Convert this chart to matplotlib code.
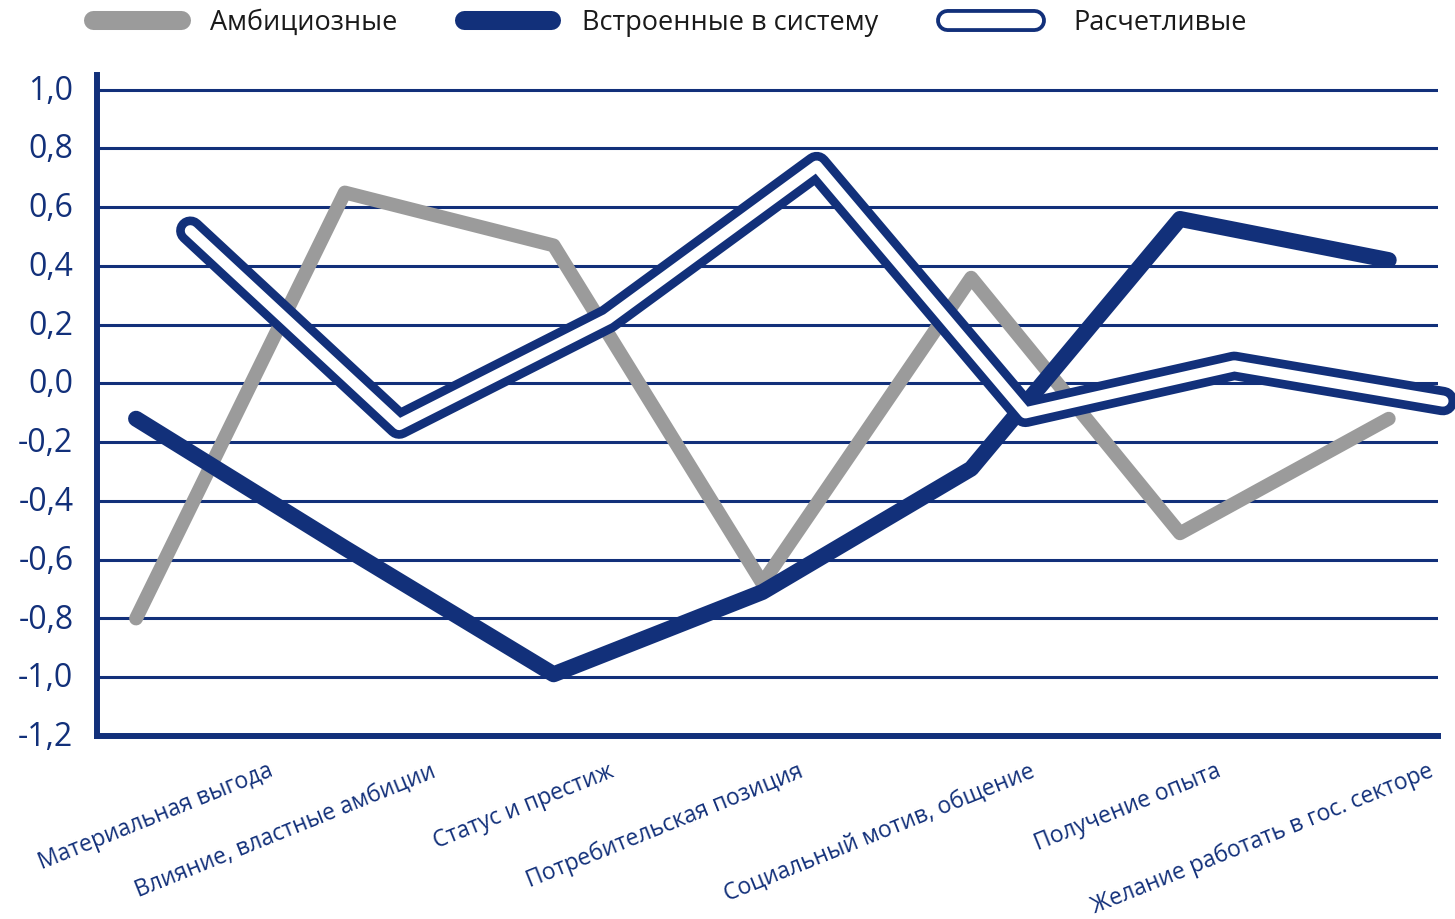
import matplotlib
matplotlib.use("Agg")
import numpy as np
import matplotlib.pyplot as plt
import matplotlib.transforms as mtransforms
from matplotlib.lines import Line2D
from matplotlib.ticker import FuncFormatter

plt.rcParams["font.family"] = ["Open Sans", "DejaVu Sans"]

# данные
categories = ["Материальная выгода", "Влияние, властные амбиции", "Статус и престиж",
              "Потребительская позиция", "Социальный мотив, общение", "Получение опыта",
              "Желание работать в гос. секторе"]
series_names = ["Амбициозные", "Встроенные в систему", "Расчетливые"]
ambitious = [-0.80, 0.65, 0.47, -0.68, 0.36, -0.51, -0.12]
embedded = [-0.12, -0.56, -0.99, -0.71, -0.29, 0.56, 0.42]
calculating = [0.52, -0.14, 0.22, 0.74, -0.10, 0.06, -0.06]
y_ticks = [-1.2, -1.0, -0.8, -0.6, -0.4, -0.2, 0.0, 0.2, 0.4, 0.6, 0.8, 1.0]

# оформление
NAVY = "#12307a"
GRAY = "#9b9b9b"
W, H = 1455, 920
label_pos = [0.63, 1.41, 2.26, 3.17, 4.28, 5.17, 6.19]   # where rotated labels end
hollow_shift = 0.26

fig = plt.figure(figsize=(W / 100, H / 100), dpi=100)
ax = fig.add_axes([97 / W, 1 - 737 / H, (1438 - 97) / W, 661 / H])

x = np.arange(len(categories))
ax.plot(x, ambitious, color=GRAY, lw=10, solid_capstyle="round",
        solid_joinstyle="round", zorder=3)
ax.plot(x, embedded, color=NAVY, lw=11.5, solid_capstyle="round",
        solid_joinstyle="round", zorder=4)
ax.plot(x + hollow_shift, calculating, color=NAVY, lw=20.5, solid_capstyle="round",
        solid_joinstyle="round", zorder=5, clip_on=False)
ax.plot(x + hollow_shift, calculating, color="white", lw=8, solid_capstyle="round",
        solid_joinstyle="round", zorder=6, clip_on=False)

ax.set_xlim(-0.187, 6.236)
ax.set_ylim(-1.2, 1.05)

ax.set_yticks(y_ticks)
ax.yaxis.set_major_formatter(FuncFormatter(lambda v, _: f"{v:.1f}".replace(".", ",")))
ax.tick_params(axis="y", length=0, pad=17, labelsize=23, labelcolor=NAVY)
ax.grid(axis="y", color=NAVY, lw=2.2)
ax.set_axisbelow(True)

offset = mtransforms.ScaledTranslation(0, 2.5 / 72, fig.dpi_scale_trans)
for lab in ax.get_yticklabels():
    lab.set_transform(lab.get_transform() + offset)

ax.set_xticks(label_pos)
ax.set_xticklabels(categories, rotation=22, ha="right", rotation_mode="anchor",
                   fontsize=16.5, color=NAVY)
ax.tick_params(axis="x", length=0, pad=16)

for s in ["top", "right"]:
    ax.spines[s].set_visible(False)
for s in ["left", "bottom"]:
    ax.spines[s].set_color(NAVY)
    ax.spines[s].set_linewidth(4.3)

# легенда вручную
ly = 1 - 21 / H
handles = [
    [(92.5, 180.5, GRAY, 13.7)],
    [(464.5, 550.5, NAVY, 13.7)],
    [(946.5, 1033.5, NAVY, 16.5), (946.5, 1033.5, "white", 11)],
]
text_x = [210, 582, 1073]
for parts, tx, name in zip(handles, text_x, series_names):
    for x0, x1, c, lw in parts:
        fig.add_artist(Line2D([x0 / W, x1 / W], [ly, ly], transform=fig.transFigure,
                              color=c, lw=lw, solid_capstyle="round"))
    fig.text(tx / W, 1 - 30 / H, name, fontsize=19.5, color="#1a1a1a", va="baseline")

fig.savefig("out.png", dpi=100, facecolor="white")
